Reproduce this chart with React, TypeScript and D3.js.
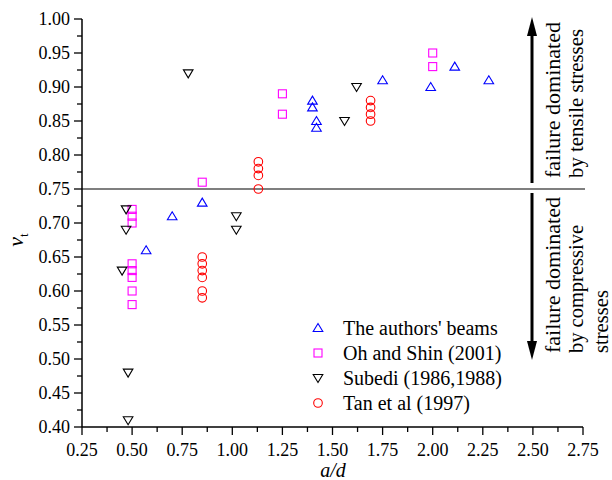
import React from "react";
import * as d3 from "d3";

const xTicks = [0.25, 0.5, 0.75, 1.0, 1.25, 1.5, 1.75, 2.0, 2.25, 2.5, 2.75];
const yTicks = [0.4, 0.45, 0.5, 0.55, 0.6, 0.65, 0.7, 0.75, 0.8, 0.85, 0.9, 0.95, 1.0];

const authorsX = [0.57, 0.70, 0.85, 1.40, 1.40, 1.42, 1.42, 1.75, 1.99, 2.11, 2.28];
const authorsY = [0.66, 0.71, 0.73, 0.88, 0.87, 0.85, 0.84, 0.91, 0.90, 0.93, 0.91];

const ohShinX = [0.50, 0.50, 0.50, 0.50, 0.50, 0.50, 0.50, 0.50, 0.85, 1.25, 1.25, 2.00, 2.00];
const ohShinY = [0.72, 0.71, 0.70, 0.64, 0.63, 0.62, 0.60, 0.58, 0.76, 0.89, 0.86, 0.95, 0.93];

const subediX = [0.47, 0.47, 0.45, 0.48, 0.48, 0.78, 1.02, 1.02, 1.56, 1.62];
const subediY = [0.72, 0.69, 0.63, 0.48, 0.41, 0.92, 0.71, 0.69, 0.85, 0.90];

const tanX = [0.85, 0.85, 0.85, 0.85, 0.85, 0.85, 1.13, 1.13, 1.13, 1.13, 1.69, 1.69, 1.69, 1.69];
const tanY = [0.65, 0.64, 0.63, 0.62, 0.60, 0.59, 0.79, 0.78, 0.77, 0.75, 0.88, 0.87, 0.86, 0.85];

const legendLabels = ["The authors' beams", "Oh and Shin (2001)", "Subedi (1986,1988)", "Tan et al (1997)"];
const threshold = 0.75;

const FONT = '"Liberation Serif", "Times New Roman", Times, "DejaVu Serif", serif';

type Kind = "up" | "square" | "down" | "circle";

function Marker({ kind, x, y }: { kind: Kind; x: number; y: number }) {
  if (kind === "up") {
    return (
      <path
        d={`M${x},${y - 4.5} L${x + 4.8},${y + 3.5} L${x - 4.8},${y + 3.5} Z`}
        fill="none"
        stroke="#0000ff"
        strokeWidth={1.1}
      />
    );
  }
  if (kind === "down") {
    return (
      <path
        d={`M${x},${y + 4.5} L${x + 4.8},${y - 3.5} L${x - 4.8},${y - 3.5} Z`}
        fill="none"
        stroke="#000000"
        strokeWidth={1.1}
      />
    );
  }
  if (kind === "square") {
    return <rect x={x - 4} y={y - 4} width={8} height={8} fill="none" stroke="#ff00ff" strokeWidth={1.1} />;
  }
  return <circle cx={x} cy={y} r={4.3} fill="none" stroke="#ff0000" strokeWidth={1.1} />;
}

export default function App() {
  const x = d3.scaleLinear().domain([0.25, 2.75]).range([82, 583]);
  const y = d3.scaleLinear().domain([0.4, 1.0]).range([427, 19]);

  const xMinor = d3.range(0, 21).map((i) => 0.25 + i * 0.125);
  const yMinor = d3.range(0, 25).map((i) => 0.4 + i * 0.025);

  const series: { kind: Kind; xs: number[]; ys: number[] }[] = [
    { kind: "up", xs: authorsX, ys: authorsY },
    { kind: "square", xs: ohShinX, ys: ohShinY },
    { kind: "down", xs: subediX, ys: subediY },
    { kind: "circle", xs: tanX, ys: tanY },
  ];

  const ay = y(threshold);
  const arrowX = 532;
  const ts = { fontFamily: FONT } as React.CSSProperties;

  const notes = [
    { text: "failure dominated", x: 560, y: 178, len: 156 },
    { text: "by tensile stresses", x: 583, y: 178, len: 149 },
    { text: "failure dominated", x: 560, y: 353, len: 156 },
    { text: "by compressive", x: 583, y: 353, len: 128 },
    { text: "stresses", x: 608, y: 353, len: 63 },
  ];

  return (
    <svg
      width={612}
      height={480}
      style={{ position: "absolute", left: 0, top: 0, background: "#fff", fontFamily: FONT }}
    >
      <rect width={612} height={480} fill="#fff" />
      {/* threshold line */}
      <line x1={x(0.25)} x2={x(2.75) + 2} y1={ay} y2={ay} stroke="#555" strokeWidth={1.5} />

      {/* axes */}
      <line x1={x(0.25)} x2={x(0.25)} y1={y(1.0)} y2={y(0.4)} stroke="#000" strokeWidth={1.5} />
      <line x1={x(0.25)} x2={x(2.75)} y1={y(0.4)} y2={y(0.4)} stroke="#000" strokeWidth={1.5} />
      {yMinor.map((v, i) => (
        <line
          key={"ym" + i}
          x1={x(0.25)}
          x2={x(0.25) - (i % 2 === 0 ? 8 : 5)}
          y1={y(v)}
          y2={y(v)}
          stroke="#000"
          strokeWidth={1.3}
        />
      ))}
      {yTicks.map((v) => (
        <text key={"yl" + v} x={70} y={y(v) + 6} textAnchor="end" fontSize={18} style={ts}>
          {d3.format(".2f")(v)}
        </text>
      ))}
      {xMinor.map((v, i) => (
        <line
          key={"xm" + i}
          x1={x(v)}
          x2={x(v)}
          y1={y(0.4)}
          y2={y(0.4) + (i % 2 === 0 ? 8 : 5)}
          stroke="#000"
          strokeWidth={1.3}
        />
      ))}
      {xTicks.map((v) => (
        <text key={"xl" + v} x={x(v)} y={456} textAnchor="middle" fontSize={18} style={ts}>
          {d3.format(".2f")(v)}
        </text>
      ))}

      {/* axis titles */}
      <text x={333} y={477} textAnchor="middle" fontSize={20} fontStyle="italic" style={ts}>
        a/d
      </text>
      <text
        transform={`translate(23,${y(0.675)}) rotate(-90)`}
        textAnchor="middle"
        fontSize={22}
        fontStyle="italic"
        style={ts}
      >
        ν
        <tspan fontSize={13} fontStyle="normal" dy={5}>
          t
        </tspan>
      </text>

      {/* data */}
      {series.map((s) =>
        s.xs.map((xv, i) => <Marker key={s.kind + i} kind={s.kind} x={x(xv)} y={y(s.ys[i])} />)
      )}

      {/* legend */}
      {series.map((s, i) => (
        <g key={"lg" + i}>
          <Marker kind={s.kind} x={318} y={328 + i * 25} />
          <text x={343} y={328 + i * 25 + 7} fontSize={20} style={ts}>
            {legendLabels[i]}
          </text>
        </g>
      ))}

      {/* arrows */}
      <line x1={arrowX} x2={arrowX} y1={ay - 6} y2={34} stroke="#000" strokeWidth={3} />
      <path d={`M${arrowX},17 L${arrowX + 5},36 L${arrowX - 5},36 Z`} fill="#000" />
      <line x1={arrowX} x2={arrowX} y1={ay + 4} y2={343} stroke="#000" strokeWidth={3} />
      <path d={`M${arrowX},360 L${arrowX + 5},341 L${arrowX - 5},341 Z`} fill="#000" />

      {/* annotations */}
      {notes.map((n, i) => (
        <text
          key={"n" + i}
          transform={`translate(${n.x},${n.y}) rotate(-90)`}
          fontSize={21}
          textLength={n.len}
          lengthAdjust="spacingAndGlyphs"
          style={ts}
        >
          {n.text}
        </text>
      ))}
    </svg>
  );
}
